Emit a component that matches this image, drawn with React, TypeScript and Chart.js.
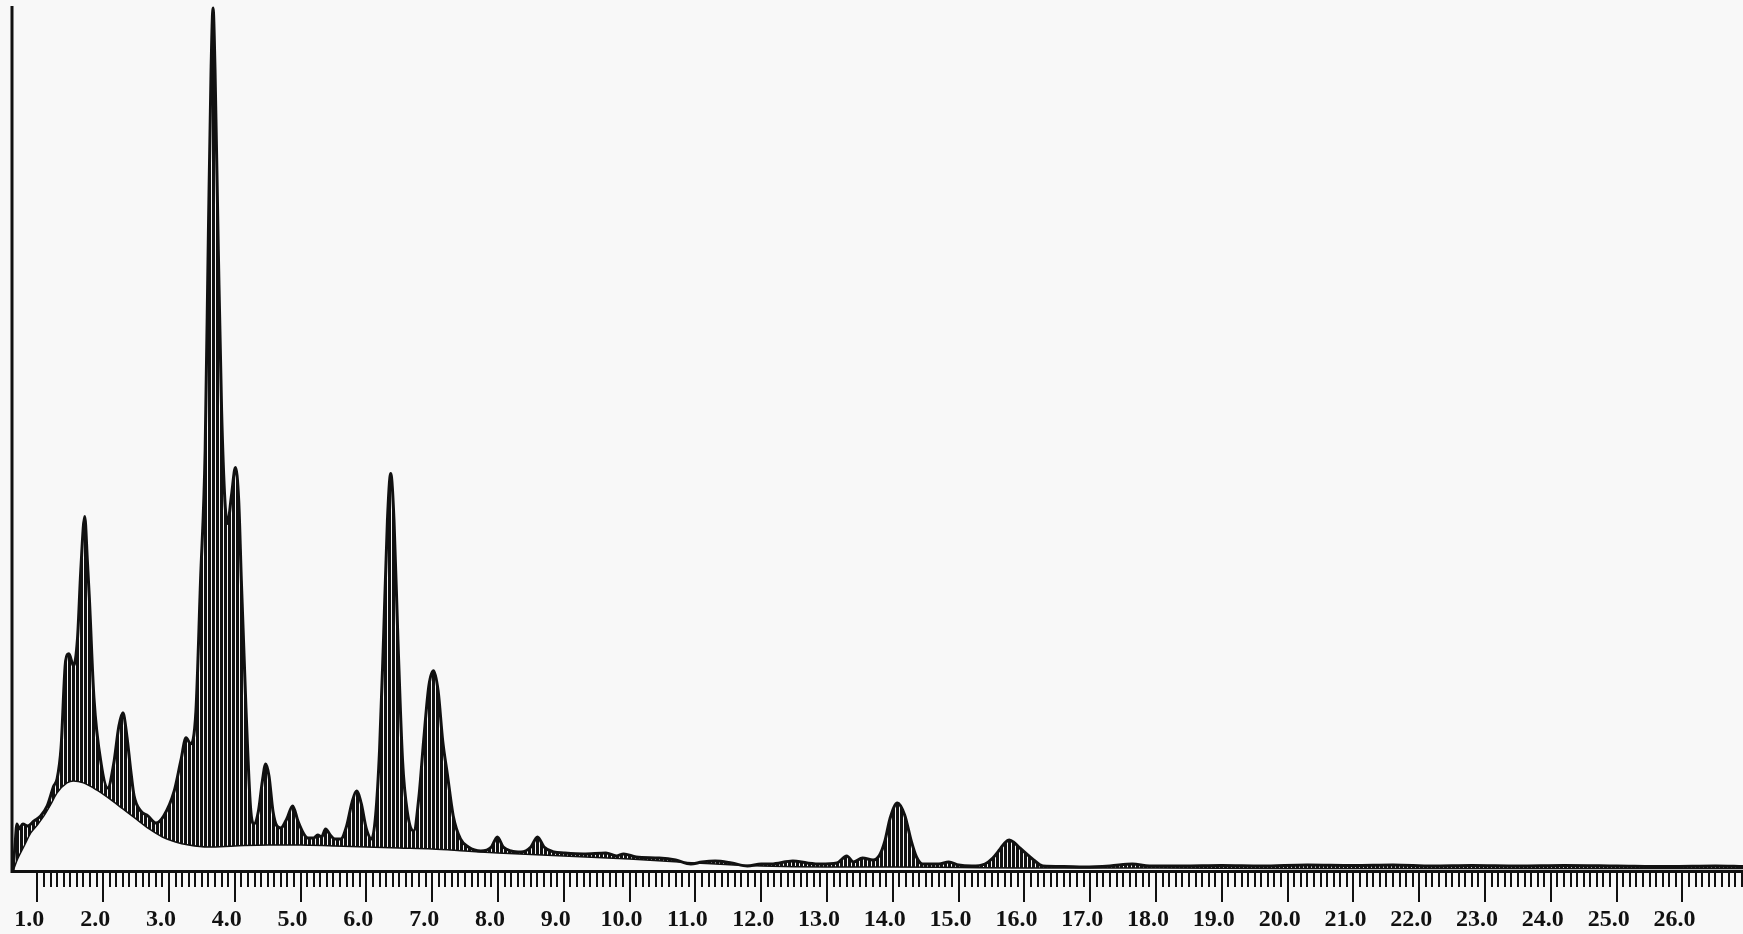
import React, { useEffect, useRef } from "react";
import { Chart, registerables } from "chart.js";

Chart.register(...registerables);

// Energy (keV) and counts of the measured spectrum (upper outline)
const spectrumEnergy = [
  0.63, 0.66, 0.69, 0.72, 0.78, 0.85, 0.95, 1.05, 1.15, 1.25, 1.3, 1.36, 1.43, 1.48, 1.55, 1.61, 1.66, 1.72, 1.76, 1.79,
  1.86, 1.97, 2.07, 2.16, 2.24, 2.3, 2.36, 2.42, 2.47, 2.57, 2.68, 2.8, 2.92, 3.08, 3.18, 3.26, 3.33, 3.41, 3.48, 3.55,
  3.6, 3.64, 3.67, 3.7, 3.75, 3.8, 3.85, 3.89, 3.95, 4.01, 4.06, 4.1, 4.17, 4.24, 4.29, 4.36, 4.42, 4.47, 4.52, 4.58,
  4.64, 4.7, 4.79, 4.88, 4.96, 5.05, 5.11, 5.2, 5.26, 5.32, 5.38, 5.45, 5.52, 5.61, 5.7, 5.78, 5.85, 5.92, 6.0, 6.08,
  6.14, 6.2, 6.26, 6.32, 6.37, 6.42, 6.48, 6.55, 6.62, 6.72, 6.8, 6.87, 6.95, 7.02, 7.09, 7.16, 7.23, 7.32, 7.43, 7.55,
  7.74, 7.9, 7.99, 8.08, 8.2, 8.35, 8.5, 8.6, 8.7, 8.85, 9.0, 9.3, 9.64, 9.8, 9.91, 10.1, 10.45, 10.7, 10.93, 11.1,
  11.3, 11.55, 11.79, 12.0, 12.15, 12.48, 12.7, 12.9, 13.15, 13.3, 13.4, 13.54, 13.7, 13.8, 13.88, 13.96, 14.07, 14.18, 14.28, 14.36,
  14.45, 14.7, 14.85, 15.0, 15.2, 15.4, 15.52, 15.62, 15.7, 15.77, 15.85, 15.93, 16.05, 16.14, 16.28, 16.6, 16.9, 17.3, 17.64, 17.9,
  18.4, 19.0, 19.6, 20.3, 21.0, 21.6, 22.2, 22.8, 23.5, 24.2, 25.0, 25.8, 26.5, 26.92,
];
const spectrumCounts = [
  0, 25, 47, 42, 47, 45, 50, 55, 65, 85, 92, 123, 210, 217, 205, 232, 300, 354, 310, 273,
  173, 107, 83, 107, 145, 158, 135, 100, 75, 60, 55, 48, 55, 80, 110, 133, 127, 160, 290, 420,
  640, 800, 862, 800, 620, 460, 370, 347, 375, 403, 370, 290, 163, 63, 47, 60, 90, 107, 95, 60,
  45, 43, 52, 65, 50, 37, 33, 33, 36, 34, 42, 36, 32, 32, 45, 68, 80, 68, 42, 32,
  55, 120, 230, 350, 397, 350, 230, 110, 60, 40, 75, 130, 185, 200, 180, 130, 97, 55, 32, 24,
  20, 24, 34, 24, 20, 19, 24, 34, 24, 19, 18, 17, 18, 15, 17, 14, 13, 11, 7, 9,
  10, 8, 5, 7, 7, 10, 8, 7, 8, 15, 9, 13, 11, 16, 30, 53, 68, 56, 30, 14,
  7, 7, 9, 6, 5, 7, 13, 21, 28, 31, 28, 23, 16, 11, 5, 4.5, 4, 5, 7, 5,
  5, 5.5, 5, 6, 5.5, 6, 5, 5.5, 5, 5.5, 5, 4.5, 5, 4.5,
];

// Continuum background (lower outline of the hatched area)
const backgroundEnergy = [
  0.63, 0.7, 0.8, 0.9, 1.0, 1.1, 1.2, 1.3, 1.45, 1.55, 1.7, 1.9, 2.1, 2.3, 2.5, 2.7, 2.9, 3.1, 3.3, 3.6,
  4.0, 4.5, 5.0, 5.5, 6.0, 6.5, 7.0, 7.5, 8.0, 9.0, 10.0, 11.0, 12.0, 13.0, 14.0, 15.0, 16.0, 18.0, 20.0, 26.92,
];
const backgroundCounts = [
  0, 12, 25, 38, 46, 55, 66, 78, 88, 90, 88, 81, 72, 62, 52, 42, 34, 29, 26, 24,
  25, 26, 26, 25, 24, 23, 22, 20, 18, 15, 12, 8, 5, 4, 4, 3.5, 3, 3, 2.5, 2.5,
];

const majorTicks = [1, 2, 3, 4, 5, 6, 7, 8, 9, 10, 11, 12, 13, 14, 15, 16, 17, 18, 19, 20, 21, 22, 23, 24, 25, 26];

const X_MIN = 0.63;
const X_MAX = 26.92;
const Y_MAX = 864;

const frameAndTicks = {
  id: "frameAndTicks",
  afterDraw(chart: any) {
    const { ctx, chartArea } = chart;
    const x = chart.scales.x;
    const y0 = chartArea.bottom + 1;
    ctx.save();
    ctx.strokeStyle = "#111";
    // left vertical axis line
    ctx.lineWidth = 3;
    ctx.beginPath();
    ctx.moveTo(chartArea.left - 1, chartArea.top);
    ctx.lineTo(chartArea.left - 1, chartArea.bottom + 2);
    ctx.stroke();
    ctx.lineWidth = 2;
    for (let k = 10; k <= 269; k++) {
      const px = Math.round(x.getPixelForValue(k / 10));
      const len = k % 10 === 0 ? 30 : 15;
      ctx.beginPath();
      ctx.moveTo(px, y0);
      ctx.lineTo(px, y0 + len);
      ctx.stroke();
    }
    ctx.restore();
  },
};

export default function App() {
  const ref = useRef<HTMLCanvasElement | null>(null);

  useEffect(() => {
    const canvas = ref.current;
    if (!canvas) return;
    const pc = document.createElement("canvas");
    pc.width = 4;
    pc.height = 8;
    const pctx = pc.getContext("2d")!;
    pctx.fillStyle = "#111";
    pctx.fillRect(0, 0, 3, 8);
    const ctx = canvas.getContext("2d")!;
    const hatch = ctx.createPattern(pc, "repeat");

    const chart = new Chart(canvas, {
      type: "line",
      data: {
        datasets: [
          {
            label: "spectrum",
            data: spectrumEnergy.map((e, i) => ({ x: e, y: spectrumCounts[i] })),
            borderColor: "#111",
            borderWidth: 3,
            pointRadius: 0,
            cubicInterpolationMode: "monotone",
            fill: "+1",
            backgroundColor: hatch as any,
          },
          {
            label: "background",
            data: backgroundEnergy.map((e, i) => ({ x: e, y: backgroundCounts[i] })),
            borderColor: "#111",
            borderWidth: 1.5,
            pointRadius: 0,
            cubicInterpolationMode: "monotone",
            fill: false,
          },
        ],
      },
      options: {
        responsive: false,
        animation: false,
        layout: { autoPadding: false, padding: { left: 13, top: 6, right: 0, bottom: 0 } },
        plugins: { legend: { display: false }, tooltip: { enabled: false } },
        scales: {
          x: {
            type: "linear",
            min: X_MIN,
            max: X_MAX,
            afterBuildTicks: (scale: any) => {
              scale.ticks = majorTicks.map((v) => ({ value: v }));
            },
            afterFit: (scale: any) => {
              scale.height = 63;
              scale.paddingLeft = 0;
              scale.paddingRight = 0;
            },
            grid: { display: false, drawTicks: false },
            border: { display: true, color: "#111", width: 3 },
            ticks: {
              autoSkip: false,
              maxRotation: 0,
              padding: 34,
              labelOffset: -8,
              color: "#111",
              font: { family: "Liberation Serif", weight: "bold", size: 24 },
              callback: (v: any) => Number(v).toFixed(1),
            },
          },
          y: {
            display: false,
            min: 0,
            max: Y_MAX,
          },
        },
      },
      plugins: [frameAndTicks],
    });
    return () => chart.destroy();
  }, []);

  return (
    <div style={{ position: "fixed", left: 0, top: 0, width: 1743, height: 934, background: "#f8f8f8" }}>
      <canvas ref={ref} width={1743} height={934} style={{ display: "block" }} />
    </div>
  );
}
